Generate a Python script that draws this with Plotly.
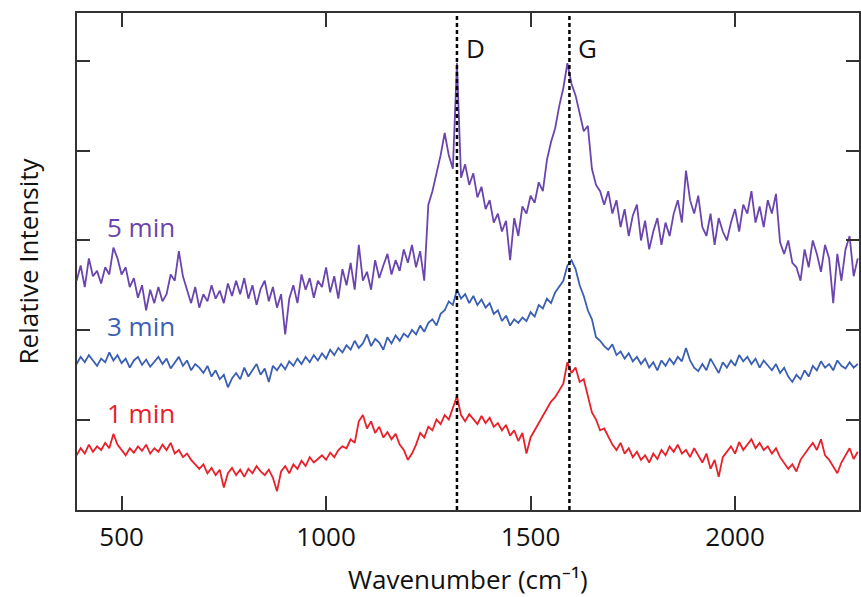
import plotly.graph_objects as go

# Wavenumber grid (cm^-1), read every 10 cm^-1 from the picture
wavenumber = list(range(390, 2301, 10))

# 5 min spectrum (relative intensity, offset)
min5 = [
    2.55, 2.72, 2.48, 2.80, 2.60, 2.66, 2.52, 2.70, 2.62, 2.92,
    2.80, 2.62, 2.70, 2.48, 2.58, 2.36, 2.50, 2.22, 2.45, 2.30,
    2.48, 2.32, 2.40, 2.62, 2.55, 2.88, 2.60, 2.45, 2.30, 2.48,
    2.25, 2.40, 2.32, 2.50, 2.35, 2.44, 2.30, 2.52, 2.38, 2.55,
    2.40, 2.58, 2.35, 2.50, 2.28, 2.46, 2.55, 2.32, 2.48, 2.25,
    2.40, 1.95, 2.35, 2.50, 2.30, 2.62, 2.45, 2.58, 2.36, 2.55,
    2.48, 2.70, 2.42, 2.60, 2.35, 2.68, 2.50, 2.75, 2.45, 2.95,
    2.55, 2.65, 2.45, 2.78, 2.58, 2.72, 2.85, 2.62, 2.78, 2.66,
    2.90, 2.75, 2.95, 2.70, 2.88, 2.55, 3.40, 3.55, 3.75, 3.95,
    4.20, 3.95, 3.80, 4.98, 3.70, 3.85, 3.62, 3.75, 3.48, 3.60,
    3.35, 3.45, 3.20, 3.30, 3.10, 3.22, 2.78, 3.25, 3.05, 3.38,
    3.30, 3.50, 3.42, 3.65, 3.55, 3.90, 4.10, 4.25, 4.50, 4.70,
    4.98, 4.75, 4.62, 4.40, 4.22, 4.28, 3.80, 3.62, 3.55, 3.40,
    3.55, 3.30, 3.45, 3.15, 3.35, 3.05, 3.28, 3.40, 3.00, 3.22,
    2.90, 3.10, 3.25, 2.95, 3.20, 3.05, 3.30, 3.45, 3.20, 3.78,
    3.45, 3.30, 3.50, 3.15, 3.05, 3.30, 2.95, 3.25, 3.10, 3.00,
    3.20, 3.35, 3.10, 3.40, 3.30, 3.55, 3.20, 3.38, 3.15, 3.45,
    3.30, 3.52, 2.98, 2.85, 3.00, 2.75, 2.70, 2.55, 2.90, 2.70,
    3.00, 2.85, 2.65, 2.95, 2.80, 2.30, 2.85, 2.55, 2.90, 3.05,
    2.60, 2.80,
]

# 3 min spectrum
min3 = [
    1.62, 1.70, 1.64, 1.72, 1.66, 1.60, 1.68, 1.64, 1.75, 1.66,
    1.72, 1.63, 1.68, 1.58, 1.66, 1.70, 1.61, 1.67, 1.59, 1.65,
    1.70, 1.62, 1.68, 1.57, 1.64, 1.70, 1.60, 1.66, 1.55, 1.62,
    1.58, 1.52, 1.60, 1.48, 1.55, 1.45, 1.50, 1.36, 1.46, 1.52,
    1.45, 1.58, 1.48, 1.55, 1.62, 1.50, 1.57, 1.42, 1.60, 1.55,
    1.62, 1.56, 1.65, 1.60, 1.68, 1.62, 1.70, 1.64, 1.72, 1.66,
    1.74, 1.68, 1.78, 1.72, 1.80, 1.75, 1.83, 1.78, 1.88, 1.80,
    1.85, 1.95, 1.82, 1.90, 1.86, 1.78, 1.92, 1.85, 1.94, 1.88,
    1.96, 1.92, 2.00, 1.95, 2.05, 1.98, 2.08, 2.12, 2.05, 2.18,
    2.22, 2.32, 2.28, 2.45, 2.35, 2.40, 2.30, 2.38, 2.28, 2.34,
    2.25, 2.30, 2.18, 2.22, 2.10, 2.16, 2.05, 2.12, 2.08, 2.14,
    2.10, 2.20, 2.15, 2.28, 2.24, 2.35, 2.30, 2.42, 2.48, 2.55,
    2.72, 2.78, 2.68, 2.50, 2.38, 2.22, 2.12, 1.92, 1.88, 1.82,
    1.78, 1.84, 1.72, 1.76, 1.68, 1.74, 1.65, 1.70, 1.62, 1.68,
    1.58, 1.64, 1.55, 1.66, 1.60, 1.68, 1.62, 1.70, 1.65, 1.80,
    1.66, 1.58, 1.54, 1.62, 1.55, 1.68, 1.60, 1.52, 1.64, 1.58,
    1.66, 1.60, 1.72, 1.65, 1.70, 1.62, 1.68, 1.58, 1.66, 1.60,
    1.55, 1.62, 1.52, 1.58, 1.48, 1.42, 1.50, 1.45, 1.55, 1.48,
    1.60, 1.55, 1.65, 1.58, 1.62, 1.55, 1.66, 1.60, 1.57, 1.64,
    1.58, 1.62,
]

# 1 min spectrum
min1 = [
    0.60, 0.68, 0.62, 0.72, 0.64, 0.70, 0.66, 0.74, 0.68, 0.84,
    0.72, 0.66, 0.60, 0.68, 0.63, 0.70, 0.65, 0.72, 0.62, 0.68,
    0.64, 0.72, 0.66, 0.74, 0.62, 0.66, 0.58, 0.62, 0.55, 0.50,
    0.45, 0.50, 0.40, 0.46, 0.38, 0.44, 0.24, 0.40, 0.46, 0.38,
    0.44, 0.36, 0.45, 0.40, 0.48, 0.42, 0.38, 0.44, 0.35, 0.20,
    0.42, 0.48, 0.40, 0.50, 0.45, 0.54, 0.48, 0.58, 0.52, 0.56,
    0.60, 0.55, 0.63, 0.58, 0.66, 0.70, 0.68, 0.78, 0.74, 0.98,
    1.05, 0.90, 0.98, 0.85, 0.92, 0.80, 0.86, 0.78, 0.84, 0.72,
    0.66, 0.55, 0.62, 0.72, 0.85, 0.80, 0.92, 0.88, 1.00, 0.95,
    1.05, 1.00, 1.12, 1.26, 1.05, 0.98, 1.06, 1.00, 0.95, 1.04,
    0.96, 1.02, 0.92, 0.96, 0.88, 0.94, 0.82, 0.88, 0.76, 0.85,
    0.62, 0.80, 0.88, 0.96, 1.05, 1.12, 1.20, 1.25, 1.32, 1.40,
    1.64, 1.52, 1.58, 1.42, 1.45, 1.25, 1.08, 1.00, 0.88, 0.90,
    0.80, 0.72, 0.66, 0.74, 0.62, 0.68, 0.58, 0.64, 0.55, 0.60,
    0.52, 0.62, 0.56, 0.66, 0.60, 0.70, 0.64, 0.72, 0.62, 0.66,
    0.58, 0.68, 0.60, 0.52, 0.62, 0.45, 0.55, 0.36, 0.58, 0.64,
    0.70, 0.62, 0.75, 0.66, 0.72, 0.78, 0.68, 0.74, 0.66, 0.70,
    0.62, 0.68, 0.58, 0.52, 0.45, 0.50, 0.42, 0.55, 0.62, 0.68,
    0.74, 0.66, 0.78, 0.60, 0.55, 0.48, 0.40, 0.52, 0.60, 0.68,
    0.56, 0.64,
]

series_names = ["1 min", "3 min", "5 min"]
series_colors = ["#e8202a", "#3a5fb3", "#6a45ad"]
series_values = [min1, min3, min5]
label_y = [1.07, 2.05, 3.15]
label_x = 547

band_names = ["D", "G"]
band_positions = [1320, 1595]

x_ticks = [500, 1000, 1500, 2000]
y_ticks = [0, 1, 2, 3, 4, 5]

FONT = "Open Sans"
FS = 26

fig = go.Figure()
for name, color, vals in zip(series_names, series_colors, series_values):
    fig.add_trace(go.Scatter(
        x=wavenumber, y=vals, mode="lines", name=name,
        line=dict(color=color, width=1.8), showlegend=False,
    ))

for pos in band_positions:
    fig.add_shape(type="line", xref="x", yref="paper", x0=pos, x1=pos, y0=0, y1=1,
                  line=dict(color="black", width=2.5, dash="4px,3px"))

for name, pos in zip(band_names, band_positions):
    fig.add_annotation(x=pos, y=5.15, xref="x", yref="y", text=name, showarrow=False,
                       xanchor="left", xshift=7, font=dict(family=FONT, size=FS, color="#111"))

for name, color, ly in zip(series_names, series_colors, label_y):
    fig.add_annotation(x=label_x, y=ly, xref="x", yref="y", text=name, showarrow=False,
                       font=dict(family=FONT, size=FS, color=color))

fig.add_annotation(x=0.5, y=0, xref="paper", yref="paper", yshift=-69,
                   text="Wavenumber (cm⁻¹)", showarrow=False, yanchor="middle",
                   font=dict(family=FONT, size=FS, color="#111"))
fig.add_annotation(x=0, y=0.5, xref="paper", yref="paper", xshift=-50, text="Relative Intensity",
                   textangle=-90, showarrow=False, xanchor="center",
                   font=dict(family=FONT, size=FS, color="#111"))

fig.update_xaxes(range=[391, 2303], tickvals=x_ticks, ticks="inside", ticklen=14, tickwidth=1.5,
                 tickcolor="#333", showline=True, linecolor="#333", linewidth=2, mirror="ticks",
                 showgrid=False, zeroline=False, ticklabelstandoff=3,
                 tickfont=dict(family=FONT, size=FS, color="#111"))
fig.update_yaxes(range=[-0.01, 5.54], tickvals=y_ticks, showticklabels=False, ticks="inside",
                 ticklen=13, tickwidth=1.5, tickcolor="#333", showline=True, linecolor="#333",
                 linewidth=2, mirror="ticks", showgrid=False, zeroline=False)

fig.update_layout(width=861, height=597, margin=dict(l=77, r=0, t=13, b=87),
                  plot_bgcolor="white", paper_bgcolor="white")

# remove the browser's default body margin so the figure sits at the window's corner
fig.write_html("out.html", config={"displayModeBar": False},
               post_script="document.body.style.margin='0';document.body.style.overflow='hidden';")
